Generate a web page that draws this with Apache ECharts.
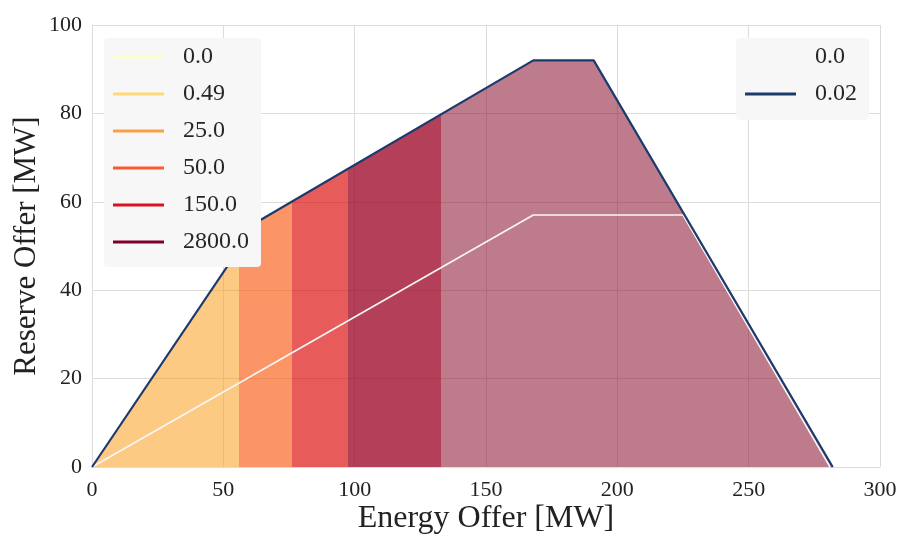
<!DOCTYPE html>
<html>
<head>
<meta charset="utf-8">
<script src="https://cdn.jsdelivr.net/npm/echarts@6/dist/echarts.min.js"></script>
<style>
  html, body { margin: 0; padding: 0; background: #fff; }
  #chart { width: 901px; height: 536px; }
</style>
</head>
<body>
<div id="chart"></div>
<script type="text/javascript">
  // outer offer curve (0.02) and inner curve (0.0)
  var outerX = [0, 63, 168, 191, 282];
  var outerY = [0, 55.5, 92, 92, 0];
  var innerX = [0, 168, 225, 281];
  var innerY = [0, 57, 57, 0];

  // price levels and where each coloured band ends on the energy axis
  var prices = ['0.0', '0.49', '25.0', '50.0', '150.0', '2800.0'];
  var priceColors = ['#ffffcc', '#fed976', '#fd9f44', '#fc5a33', '#d7131f', '#800026'];
  var bandEdges = [0, 56, 76, 97.5, 133, 300];
  var bandFills = ['rgba(251,157,30,0.55)', 'rgba(250,92,20,0.65)', 'rgba(220,14,12,0.68)',
                   'rgba(159,10,41,0.78)', 'rgba(137,15,46,0.55)'];

  var curveNames = ['0.0', '0.02'];
  var curveColors = ['#f7f7f7', '#1d3a6d'];

  var font = 'Liberation Serif';
  var gridColor = '#dcdcdc';

  function zip(xs, ys) {
    var out = [];
    for (var i = 0; i < xs.length; i++) out.push([xs[i], ys[i]]);
    return out;
  }

  var pieces = [];
  for (var i = 0; i < bandFills.length; i++) {
    pieces.push({gte: bandEdges[i], lt: bandEdges[i + 1], color: bandFills[i]});
  }

  var series = [
    {
      name: 'fill',
      type: 'line',
      data: zip(outerX, outerY),
      symbol: 'none',
      silent: true,
      lineStyle: {width: 0},
      areaStyle: {opacity: 1},
      z: 1
    },
    {
      name: 'curve:' + curveNames[0],
      type: 'line',
      data: zip(innerX, innerY),
      symbol: 'none',
      color: curveColors[0],
      lineStyle: {width: 1.6, color: curveColors[0]},
      z: 2
    },
    {
      name: 'curve:' + curveNames[1],
      type: 'line',
      data: zip(outerX, outerY),
      symbol: 'none',
      color: curveColors[1],
      lineStyle: {width: 2.2, color: curveColors[1]},
      z: 3
    }
  ];
  var priceLegend = [];
  for (var j = 0; j < prices.length; j++) {
    series.push({name: 'price:' + prices[j], type: 'line', data: [], color: priceColors[j]});
    priceLegend.push('price:' + prices[j]);
  }

  var legendText = {fontFamily: font, fontSize: 24, color: '#262626', lineHeight: 24, padding: [0, 0, 0, 14]};
  var legendBase = {
    orient: 'vertical',
    backgroundColor: '#f7f7f7',
    borderRadius: 4,
    itemWidth: 51,
    itemHeight: 3,
    itemGap: 13,
    icon: 'rect',
    selectedMode: false,
    z: 10,
    textStyle: legendText,
    formatter: function (name) { return name.split(':')[1]; }
  };

  var myChart = echarts.init(document.getElementById('chart'));
  var option = {
    animation: false,
    grid: {left: 92, right: 21, top: 25, bottom: 69, containLabel: false, outerBoundsMode: 'none'},
    legend: [
      echarts.util.extend({left: 104, top: 38, padding: [7, 12, 13, 9], data: priceLegend}, legendBase),
      echarts.util.extend({left: 736, top: 38, padding: [7, 12, 14, 9],
        data: ['curve:' + curveNames[0], 'curve:' + curveNames[1]]}, legendBase)
    ],
    visualMap: {
      type: 'piecewise',
      show: false,
      dimension: 0,
      seriesIndex: 0,
      pieces: pieces
    },
    xAxis: {
      type: 'value',
      min: 0,
      max: 300,
      interval: 50,
      name: 'Energy Offer [MW]',
      nameLocation: 'middle',
      nameGap: 36,
      nameMoveOverlap: false,
      nameTextStyle: {fontFamily: font, fontSize: 32, color: '#222'},
      axisLine: {show: true, lineStyle: {color: gridColor}},
      axisTick: {show: false},
      axisLabel: {fontFamily: font, fontSize: 22, color: '#222', margin: 12},
      splitLine: {show: true, lineStyle: {color: gridColor, width: 1}}
    },
    yAxis: {
      type: 'value',
      min: 0,
      max: 100,
      interval: 20,
      name: 'Reserve Offer [MW]',
      nameLocation: 'middle',
      nameGap: 50,
      nameMoveOverlap: false,
      nameTextStyle: {fontFamily: font, fontSize: 31, color: '#222'},
      axisLine: {show: true, lineStyle: {color: gridColor}},
      axisTick: {show: false},
      axisLabel: {fontFamily: font, fontSize: 22, color: '#222', margin: 10},
      splitLine: {show: true, lineStyle: {color: gridColor, width: 1}}
    },
    series: series
  };
  myChart.setOption(option);
</script>
</body>
</html>
